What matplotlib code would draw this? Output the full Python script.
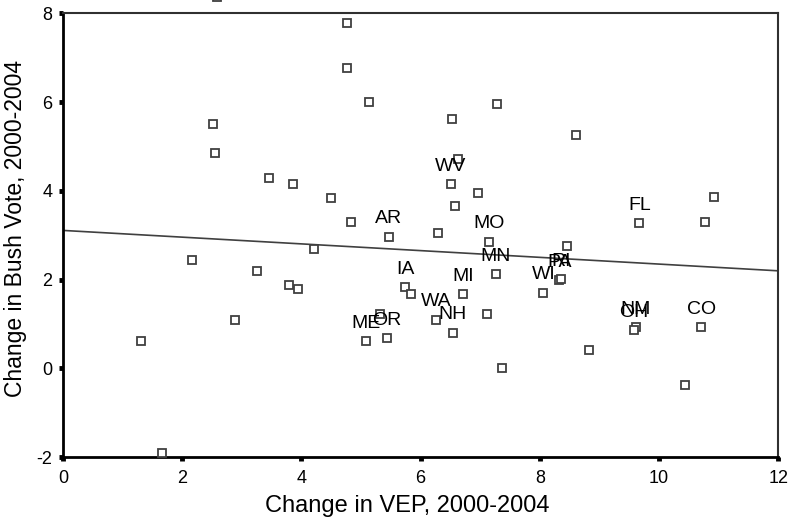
import numpy as np
import matplotlib
matplotlib.use("Agg")
import matplotlib.pyplot as plt

plt.rcParams['font.family'] = ['Liberation Sans', 'DejaVu Sans']

# change in VEP (x) and change in Bush vote (y); label '' = unlabeled
vep = [4.77, 4.77, 5.13, 2.52, 2.55, 3.46, 3.86, 4.50, 4.83, 5.47,
       4.22, 2.16, 3.25, 3.80, 3.95, 2.89, 1.31, 1.67, 5.08, 5.43,
       5.32, 6.51, 6.97, 6.57, 6.30, 7.15, 8.45, 7.26, 8.33, 8.36,
       8.06, 5.74, 5.84, 6.72, 6.26, 7.12, 6.54, 7.29, 6.53, 8.61,
       6.62, 9.67, 10.92, 10.77, 7.37, 8.83, 9.61, 9.58, 10.71, 10.43,
       2.58]
bush = [7.79, 6.76, 6.00, 5.50, 4.85, 4.28, 4.16, 3.84, 3.30, 2.97,
        2.69, 2.44, 2.20, 1.87, 1.79, 1.10, 0.61, -1.90, 0.61, 0.69,
        1.22, 4.16, 3.96, 3.67, 3.05, 2.86, 2.77, 2.12, 2.00, 2.01,
        1.71, 1.83, 1.68, 1.67, 1.10, 1.22, 0.81, 5.95, 5.63, 5.26,
        4.71, 3.27, 3.86, 3.30, 0.00, 0.41, 0.94, 0.86, 0.94, -0.37,
        8.36]
states = ['', '', '', '', '', '', '', '', '', 'AR',
          '', '', '', '', '', '', '', '', 'ME', 'OR',
          '', 'WV', '', '', '', 'MO', '', 'MN', 'PA', 'RI',
          'WI', 'IA', '', 'MI', 'WA', '', 'NH', '', '', '',
          '', 'FL', '', '', '', '', 'NM', 'OH', 'CO', '',
          '']

# fit line as shown in the chart (endpoints at x = 0 and x = 12)
fit_x = [0, 12]
fit_y = [3.11, 2.20]

x_ticks = [0, 2, 4, 6, 8, 10, 12]
y_ticks = [-2, 0, 2, 4, 6, 8]

fig = plt.figure(figsize=(7.89, 5.20), dpi=100)
ax = fig.add_axes([0.0798, 0.1206, 0.9065, 0.8538])

gray = '#404040'
ax.plot(vep, bush, linestyle='none', marker='s', markersize=5.2,
        markerfacecolor='white', markeredgecolor=gray, markeredgewidth=1.3,
        clip_on=False, zorder=3)

ax.plot(fit_x, fit_y, color=gray, linewidth=1.2, zorder=2)

for xv, yv, s in zip(vep, bush, states):
    if s:
        ax.annotate(s, (xv, yv), xytext=(0, 9.5), textcoords='offset points',
                    ha='center', va='baseline', fontsize=14, color='black',
                    zorder=4)

ax.set_xlim(0, 12)
ax.set_ylim(-2, 8)
ax.set_xticks(x_ticks)
ax.set_yticks(y_ticks)
ax.set_xticklabels([str(t) for t in x_ticks])
ax.set_yticklabels([str(t) for t in y_ticks])
ax.tick_params(axis='both', direction='out', length=3, width=3.5,
               labelsize=13, colors='black', pad=6)
ax.tick_params(axis='y', pad=4.5)

for side in ['left', 'bottom']:
    ax.spines[side].set_linewidth(2.0)
    ax.spines[side].set_color('black')
for side in ['top', 'right']:
    ax.spines[side].set_linewidth(1.5)
    ax.spines[side].set_color('#303030')

ax.set_xlabel('Change in VEP, 2000-2004', fontsize=17)
ax.set_ylabel('Change in Bush Vote, 2000-2004', fontsize=16.5)
ax.xaxis.set_label_coords(0.481, -0.086)
ax.yaxis.set_label_coords(-0.05, 0.515)

fig.savefig('out.png', dpi=100)
